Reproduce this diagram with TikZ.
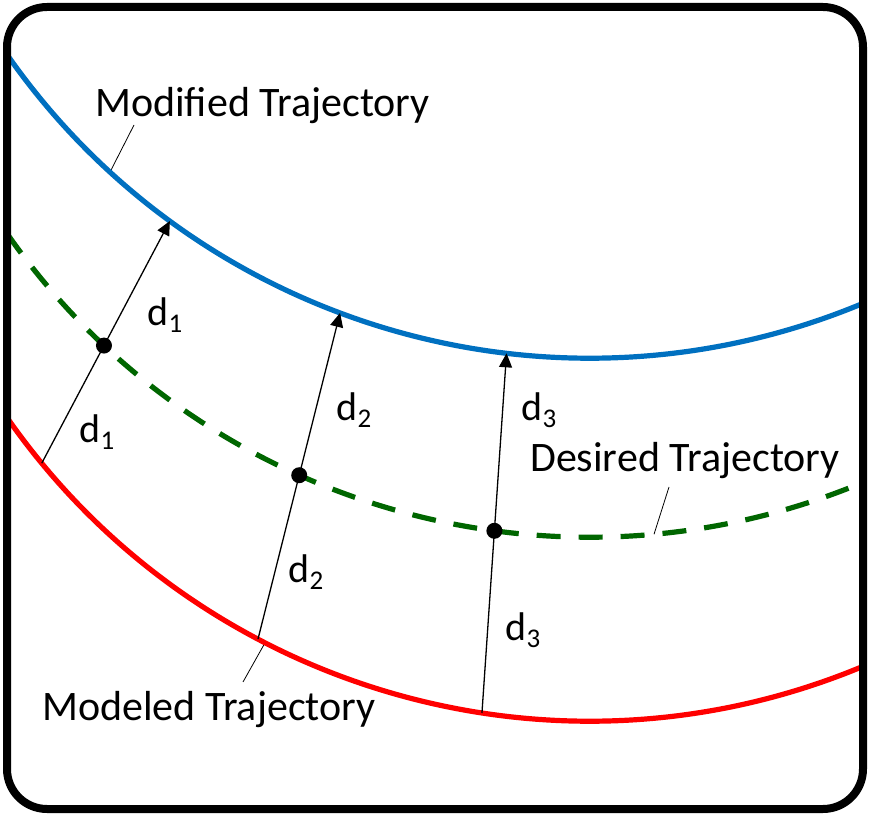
\documentclass[tikz,border=0pt]{standalone}
\usepackage{fontspec}
\setmainfont{Carlito}
\usetikzlibrary{arrows.meta,intersections}
\definecolor{trajblue}{HTML}{0070C0}
\definecolor{trajred}{HTML}{FF0000}
\definecolor{trajgreen}{HTML}{006600}
\newcommand\dsub[1]{d\raisebox{-7pt}{\fontsize{27}{30}\selectfont #1}}
\begin{document}
\begin{tikzpicture}[x=1pt,y=1pt,
  curve/.style={line width=5.2pt},
  leader/.style={line width=0.8pt},
  vec/.style={line width=1.3pt,-{Triangle[length=14pt,width=13pt]}},
  dotpt/.style={circle,fill=black,inner sep=0pt,minimum size=16pt},
  lbl/.style={font=\fontsize{42}{50}\selectfont,inner sep=0pt,anchor=base west},
  dl/.style={font=\fontsize{40}{48}\selectfont,inner sep=0pt}]
\useasboundingbox (0,0) rectangle (871,815);
\coordinate (cb) at (589.4,1167.2);
\coordinate (cg) at (589.4,988.2);
\coordinate (cr) at (589.4,804.2);
% points on curves
\path (cb) ++(233.8:710.4) coordinate (t1);
\path (cb) ++(249.45:710.4) coordinate (t2);
\path (cb) ++(263.3:710.4) coordinate (t3);
\path (cr) ++(219.56:710.4) coordinate (s1);
\path (cr) ++(242.19:710.4) coordinate (s2);
\path (cr) ++(261.3:710.4) coordinate (s3);
\path (cb) ++(227.56:710.4) coordinate (modon);
\path (cg) ++(275.22:710.4) coordinate (deson);
\path (cr) ++(242.83:710.4) coordinate (mdlon);
% labels and leaders
\node[lbl] (modtxt) at (95,698) {Modified Trajectory};
\node[lbl] (destxt) at (530,343) {Desired Trajectory};
\node[lbl] (mdltxt) at (42,95) {Modeled Trajectory};
\coordinate (modlead) at (134,690);
\coordinate (deslead) at (669,328);
\coordinate (mdllead) at (243,133);
\draw[leader] (modlead) -- (modon);
\draw[leader] (deslead) -- (deson);
\draw[leader] (mdllead) -- (mdlon);
% curves
\draw[curve,trajblue] (cb) ++(214.93:710.4) arc[start angle=214.93,end angle=292.65,radius=710.4];
\draw[curve,trajred] (cr) ++(214.93:710.4) arc[start angle=214.93,end angle=292.65,radius=710.4];
\draw[curve,trajgreen,dash pattern=on 24pt off 18pt,name path=greenc] (cg) ++(214.93:710.4) arc[start angle=214.93,end angle=292.65,radius=710.4];
% vectors
\draw[vec,name path=a1] (s1) -- (t1);
\draw[vec,name path=a2] (s2) -- (t2);
\draw[vec,name path=a3] (s3) -- (t3);
\path[name intersections={of=a1 and greenc,by=p1}];
\path[name intersections={of=a2 and greenc,by=p2}];
\path[name intersections={of=a3 and greenc,by=p3}];
\node[dotpt] (dot1) at (p1) {};
\node[dotpt] (dot2) at (p2) {};
\node[dotpt] (dot3) at (p3) {};
% distance labels
\node[dl] (d1u) at (165,500) {\dsub{1}};
\node[dl] (d1l) at (97,383) {\dsub{1}};
\node[dl] (d2u) at (354,405) {\dsub{2}};
\node[dl] (d3u) at (539,405) {\dsub{3}};
\node[dl] (d2l) at (306,243) {\dsub{2}};
\node[dl] (d3l) at (523,185) {\dsub{3}};
% frame
\draw[line width=8pt,rounded corners=40pt] (7,6) rectangle (863,808);
\end{tikzpicture}
\end{document}
